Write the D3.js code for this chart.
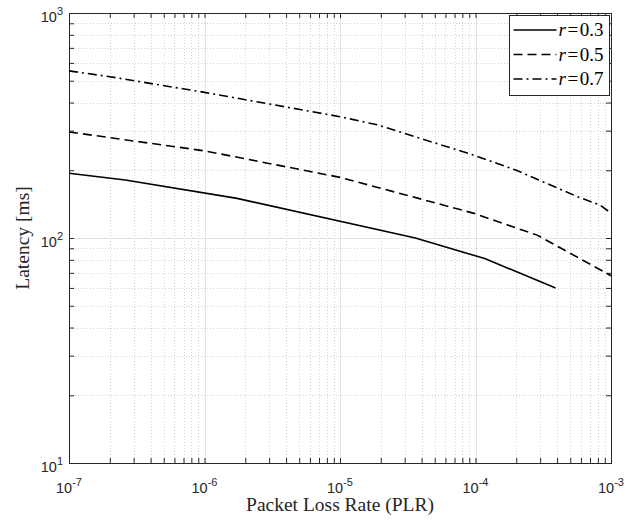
<!DOCTYPE html>
<html>
<head>
<meta charset="utf-8">
<script src="https://cdn.jsdelivr.net/npm/d3@7"></script>
<style>
  body { margin: 0; background: #fff; }
  svg { display: block; }
</style>
</head>
<body>
<div id="chart"></div>
<script>
// (PLR, latency in ms)
const plr03 = [1e-7, 2.6e-7, 1.74e-6, 3.6e-5, 1.17e-4, 3.9e-4];
const lat03 = [194, 181, 150, 100, 81, 60];
const plr05 = [1e-7, 1e-6, 1e-5, 3.8e-5, 9.6e-5, 2.85e-4, 1e-3];
const lat05 = [296, 244, 186, 150, 129, 103, 68];
const plr07 = [1e-7, 2e-7, 1e-6, 1e-5, 1.9e-5, 9.6e-5, 2e-4, 5.6e-4, 8.3e-4, 1e-3];
const lat07 = [553, 521, 444, 346, 318, 234, 200, 153, 140, 129];

const seriesNames = ["0.3", "0.5", "0.7"];
const xExponents = [-7, -6, -5, -4, -3];
const yExponents = [1, 2, 3];

const width = 638, height = 522;
const margin = { top: 13, right: 27, bottom: 59, left: 69 };
const innerW = width - margin.left - margin.right;
const innerH = height - margin.top - margin.bottom;

const axisColor = "#262626";
const tickFont = "'Liberation Sans', Arial, Helvetica, sans-serif";
const serifFont = "'Liberation Serif', 'Times New Roman', serif";

const svg = d3.select("#chart")
    .append("svg")
    .attr("width", width)
    .attr("height", height);

svg.append("rect").attr("width", width).attr("height", height).attr("fill", "#fff");

const g = svg.append("g")
    .attr("transform", `translate(${margin.left},${margin.top})`);

const x = d3.scaleLog().domain([1e-7, 1e-3]).range([0, innerW]);
const y = d3.scaleLog().domain([10, 1000]).range([innerH, 0]);

function decadeTicks(exps) {
    let major = exps.map(e => Math.pow(10, e));
    let minor = [];
    for (let i = 0; i < exps.length - 1; i++) {
        for (let k = 2; k <= 9; k++) minor.push(k * Math.pow(10, exps[i]));
    }
    return { major, minor };
}
const xt = decadeTicks(xExponents);
const yt = decadeTicks(yExponents);

// minor grid (dotted)
g.append("g").selectAll("line")
    .data(xt.minor).join("line")
    .attr("x1", d => Math.round(x(d)) + 0.5).attr("x2", d => Math.round(x(d)) + 0.5)
    .attr("y1", 0).attr("y2", innerH)
    .attr("stroke", "#d4d4d4").attr("stroke-width", 1).attr("stroke-dasharray", "1,2");
g.append("g").selectAll("line")
    .data(yt.minor).join("line")
    .attr("y1", d => Math.round(y(d)) + 0.5).attr("y2", d => Math.round(y(d)) + 0.5)
    .attr("x1", 0).attr("x2", innerW)
    .attr("stroke", "#d4d4d4").attr("stroke-width", 1).attr("stroke-dasharray", "1,2");

// major grid (solid)
g.append("g").selectAll("line")
    .data(xt.major.slice(1, -1)).join("line")
    .attr("x1", d => Math.round(x(d)) + 0.5).attr("x2", d => Math.round(x(d)) + 0.5)
    .attr("y1", 0).attr("y2", innerH)
    .attr("stroke", "#e3e3e3").attr("stroke-width", 1);
g.append("g").selectAll("line")
    .data(yt.major.slice(1, -1)).join("line")
    .attr("y1", d => Math.round(y(d)) + 0.5).attr("y2", d => Math.round(y(d)) + 0.5)
    .attr("x1", 0).attr("x2", innerW)
    .attr("stroke", "#e3e3e3").attr("stroke-width", 1);

// ticks on all four sides, pointing inwards
const xAll = xt.major.concat(xt.minor);
const yAll = yt.major.concat(yt.minor);
function tickAxis(axis, transform) {
    const a = g.append("g").attr("transform", transform).call(axis);
    a.select(".domain").remove();
    a.selectAll("line").attr("stroke", axisColor);
    a.selectAll("text").remove();
}
tickAxis(d3.axisBottom(x).tickValues(xAll).tickSize(-5).tickFormat(""), `translate(0,${innerH})`);
tickAxis(d3.axisTop(x).tickValues(xAll).tickSize(-5).tickFormat(""), "translate(0,0)");
tickAxis(d3.axisLeft(y).tickValues(yAll).tickSize(-5).tickFormat(""), "translate(0,0)");
tickAxis(d3.axisRight(y).tickValues(yAll).tickSize(-5).tickFormat(""), `translate(${innerW},0)`);

// box
g.append("rect")
    .attr("x", 0.5).attr("y", 0.5)
    .attr("width", innerW).attr("height", innerH)
    .attr("fill", "none").attr("stroke", axisColor).attr("stroke-width", 1);

// tick labels as 10^n
function powerLabel(sel, e) {
    sel.append("tspan").text("10");
    sel.append("tspan").attr("dy", -7).attr("font-size", "11px").text(e);
}
xExponents.forEach(e => {
    const t = g.append("text")
        .attr("x", x(Math.pow(10, e)))
        .attr("y", innerH + 29.5)
        .attr("text-anchor", "middle")
        .attr("font-family", tickFont)
        .attr("font-size", "14.5px")
        .attr("fill", axisColor);
    powerLabel(t, e);
});
yExponents.forEach(e => {
    const t = g.append("text")
        .attr("x", -6)
        .attr("y", y(Math.pow(10, e)) + 9.3)
        .attr("text-anchor", "end")
        .attr("font-family", tickFont)
        .attr("font-size", "14.5px")
        .attr("fill", axisColor);
    powerLabel(t, e);
});

// axis titles
svg.append("text")
    .attr("x", 340)
    .attr("y", 511)
    .attr("text-anchor", "middle")
    .attr("font-family", serifFont)
    .attr("font-size", "19.5px")
    .attr("fill", axisColor)
    .text("Packet Loss Rate (PLR)");
svg.append("text")
    .attr("transform", `translate(29,${margin.top + innerH / 2}) rotate(-90)`)
    .attr("text-anchor", "middle")
    .attr("font-family", serifFont)
    .attr("font-size", "19.5px")
    .attr("fill", axisColor)
    .text("Latency [ms]");

// series
const series = [
    { name: seriesNames[0], xs: plr03, ys: lat03, dash: null },
    { name: seriesNames[1], xs: plr05, ys: lat05, dash: "9,5" },
    { name: seriesNames[2], xs: plr07, ys: lat07, dash: "9,4,2,4" }
];

const line = d3.line()
    .x(d => x(d[0]))
    .y(d => y(d[1]));

const plotArea = g.append("g");
series.forEach(s => {
    plotArea.append("path")
        .datum(s.xs.map((v, i) => [v, s.ys[i]]))
        .attr("fill", "none")
        .attr("stroke", "#000")
        .attr("stroke-width", 1.6)
        .attr("stroke-dasharray", s.dash)
        .attr("d", line);
});

// legend
const legend = svg.append("g").attr("transform", "translate(509.5,15.5)");
legend.append("rect")
    .attr("width", 100).attr("height", 80)
    .attr("fill", "#fff").attr("stroke", axisColor).attr("stroke-width", 1);
series.forEach((s, i) => {
    const yy = 14.5 + i * 24.5;
    legend.append("line")
        .attr("x1", 4).attr("x2", 47)
        .attr("y1", yy).attr("y2", yy)
        .attr("stroke", "#000").attr("stroke-width", 1.6)
        .attr("stroke-dasharray", s.dash);
    const t = legend.append("text")
        .attr("x", 49).attr("y", yy + 6)
        .attr("font-family", serifFont)
        .attr("font-size", "19px")
        .attr("fill", "#000");
    t.append("tspan").attr("font-style", "italic").text("r");
    t.append("tspan").attr("dx", 1.5).text("=");
    t.append("tspan").attr("dx", 1.5).text(s.name);
});
</script>
</body>
</html>
